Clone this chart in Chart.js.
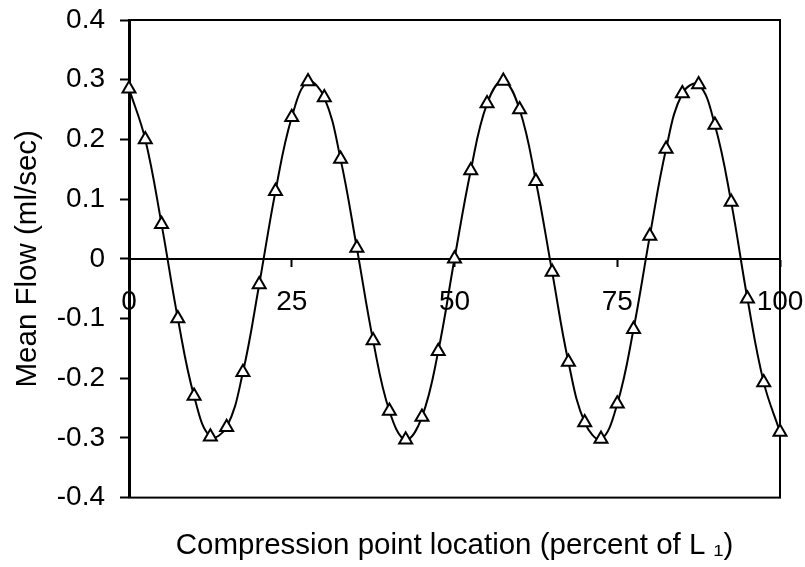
<!DOCTYPE html>
<html>
<head>
<meta charset="utf-8">
<script src="https://cdn.jsdelivr.net/npm/chart.js@4"></script>
<style>
  html, body { margin: 0; padding: 0; background: #fff; }
  #wrap { width: 805px; height: 567px; }
</style>
</head>
<body>
<div id="wrap"><canvas id="grafica" width="805" height="567"></canvas></div>
<script>
// compression point location (percent of L1)
const posiciones = [0, 2.5, 5, 7.5, 10, 12.5, 15, 17.5, 20, 22.5, 25, 27.5, 30, 32.5, 35, 37.5, 40,
  42.5, 45, 47.5, 50, 52.5, 55, 57.5, 60, 62.5, 65, 67.5, 70, 72.5, 75, 77.5, 80, 82.5, 85, 87.5,
  90, 92.5, 95, 97.5, 100];
// mean flow (ml/sec)
const flujo = [0.285, 0.200, 0.058, -0.100, -0.230, -0.298, -0.282, -0.190, -0.043, 0.113, 0.237,
  0.297, 0.270, 0.167, 0.018, -0.137, -0.255, -0.303, -0.265, -0.155, 0.000, 0.148, 0.260, 0.298,
  0.250, 0.130, -0.022, -0.173, -0.274, -0.302, -0.243, -0.118, 0.038, 0.184, 0.277, 0.292, 0.224,
  0.095, -0.067, -0.207, -0.290];
const ticksX = [0, 25, 50, 75, 100];
const ticksY = [-0.4, -0.3, -0.2, -0.1, 0, 0.1, 0.2, 0.3, 0.4];

const familia = '"Liberation Sans", Arial, sans-serif';
const fuenteTicks = { family: familia, size: 28 };
const fuenteTitulo = { family: familia, size: 29.5, weight: 'normal' };

// marco negro alrededor del area del grafico
const marco = {
    id: 'marco',
    beforeDatasetsDraw(chart) {
        const { ctx, chartArea: a } = chart;
        ctx.save();
        ctx.strokeStyle = '#000';
        ctx.lineWidth = 2;
        ctx.strokeRect(a.left, a.top, a.right - a.left, a.bottom - a.top);
        ctx.restore();
    }
};

const ctx = document.getElementById('grafica').getContext('2d');
new Chart(ctx, {
    type: 'line',
    data: {
        datasets: [{
            data: posiciones.map((x, i) => ({ x, y: flujo[i] })),
            borderColor: '#000',
            borderWidth: 2,
            tension: 0.4,
            pointStyle: 'triangle',
            pointRadius: 7.5,
            pointBorderWidth: 2,
            pointBorderColor: '#000',
            pointBackgroundColor: '#fff',
            clip: false
        }]
    },
    plugins: [marco],
    options: {
        responsive: false,
        animation: false,
        layout: { padding: { left: 0, right: 25, top: 20, bottom: 0 } },
        scales: {
            x: {
                type: 'linear',
                position: { y: 0 },
                min: 0,
                max: 100,
                afterBuildTicks: s => { s.ticks = ticksX.map(v => ({ value: v })); },
                afterFit: s => { s.paddingLeft = 0; s.paddingRight = 0; },
                ticks: { color: '#000', font: fuenteTicks, padding: 20, maxRotation: 0 },
                grid: { drawOnChartArea: false, tickLength: 7, tickWidth: 2, tickColor: '#000' },
                border: { color: '#000', width: 2 }
            },
            y: {
                min: -0.4,
                max: 0.4,
                afterBuildTicks: s => { s.ticks = ticksY.map(v => ({ value: v })); },
                afterFit: s => { s.width = 129; s.paddingTop = 0; s.paddingBottom = 0; },
                ticks: {
                    color: '#000', font: fuenteTicks, padding: 15,
                    callback: v => (Math.abs(v) < 1e-9 ? '0' : v.toFixed(1))
                },
                grid: { drawOnChartArea: false, tickLength: 9, tickWidth: 2, tickColor: '#000' },
                border: { color: '#000', width: 3 },
                title: {
                    display: true,
                    text: 'Mean Flow (ml/sec)',
                    color: '#000',
                    font: fuenteTitulo,
                    padding: { top: 10, bottom: 0 }
                }
            }
        },
        plugins: {
            legend: { display: false },
            tooltip: { enabled: false },
            title: {
                display: true,
                position: 'bottom',
                fullSize: false,
                text: 'Compression point location (percent of L \u2081)',
                color: '#000',
                font: fuenteTitulo,
                padding: { top: 31, bottom: 3 }
            }
        }
    }
});
</script>
</body>
</html>
